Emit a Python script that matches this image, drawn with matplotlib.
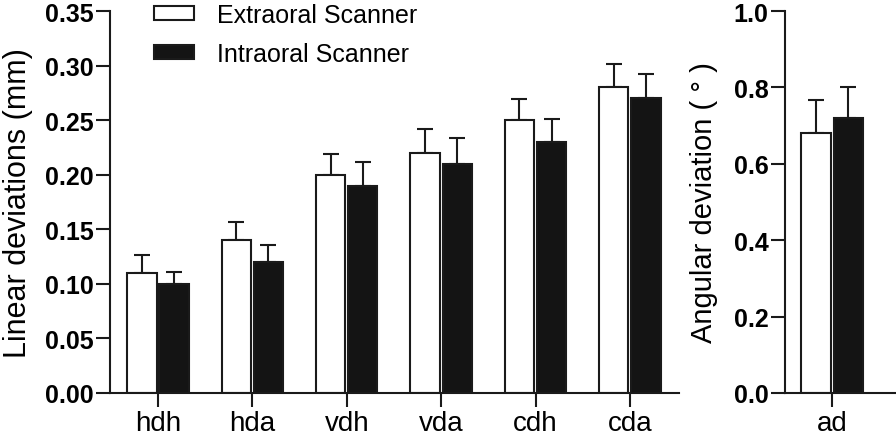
import numpy as np
import matplotlib.pyplot as plt

plt.rcParams['font.family'] = ['Liberation Sans', 'DejaVu Sans']

groups = ['hdh', 'hda', 'vdh', 'vda', 'cdh', 'cda']
extra = [0.11, 0.14, 0.20, 0.22, 0.25, 0.28]
extra_err = [0.016, 0.017, 0.019, 0.022, 0.019, 0.021]
intra = [0.10, 0.12, 0.19, 0.21, 0.23, 0.27]
intra_err = [0.011, 0.016, 0.022, 0.024, 0.021, 0.022]

ang_groups = ['ad']
ang_extra = [0.68]
ang_extra_err = [0.086]
ang_intra = [0.72]
ang_intra_err = [0.081]

lw = 1.5
ink = '#1a1a1a'
w = 0.31
off = 0.17

fig = plt.figure(figsize=(8.96, 4.35), dpi=100)
ax1 = fig.add_axes([110/896, 41/435, 569/896, 382/435])
ax2 = fig.add_axes([785/896, 41/435, 110/896, 382/435])


def draw(ax, labels, e, ee, i, ie):
    x = np.arange(len(labels))
    ax.bar(x - off, e, w, color='white', edgecolor=ink, linewidth=lw,
           label='Extraoral Scanner', zorder=2)
    ax.bar(x + off, i, w, color='#141414', edgecolor=ink, linewidth=lw,
           label='Intraoral Scanner', zorder=2)
    ax.errorbar(x - off, e, yerr=[np.zeros(len(e)), ee], fmt='none',
                ecolor=ink, elinewidth=lw, capsize=5.8, capthick=lw, zorder=1)
    ax.errorbar(x + off, i, yerr=[np.zeros(len(i)), ie], fmt='none',
                ecolor=ink, elinewidth=lw, capsize=5.8, capthick=lw, zorder=1)
    ax.set_xticks(x)
    ax.set_xticklabels(labels, fontsize=20)
    for s in ['top', 'right']:
        ax.spines[s].set_visible(False)
    for s in ['left', 'bottom']:
        ax.spines[s].set_linewidth(lw)
        ax.spines[s].set_color(ink)
    ax.tick_params(axis='both', direction='out', length=10, width=lw, color=ink)
    ax.tick_params(axis='x', pad=2)
    ax.tick_params(axis='y', pad=2)


draw(ax1, groups, extra, extra_err, intra, intra_err)
ax1.set_xlim(-0.508, 5.52)
ax1.set_ylim(0, 0.35)
ax1.set_yticks(np.arange(0, 0.351, 0.05))
ax1.set_yticklabels([f'{v:.2f}' for v in np.arange(0, 0.351, 0.05)],
                    fontsize=18, fontweight='bold')
ax1.set_ylabel('Linear deviations (mm)', fontsize=22)
ax1.yaxis.set_label_coords(-0.135, 0.5)
ax1.legend(loc='upper left', bbox_to_anchor=(0.037, 1.08), frameon=False,
           fontsize=18, handlelength=1.6, handleheight=0.47,
           handletextpad=0.95, labelspacing=0.6)

draw(ax2, ang_groups, ang_extra, ang_extra_err, ang_intra, ang_intra_err)
ax2.set_xlim(-0.5, 0.667)
ax2.set_ylim(0, 1.0)
ax2.set_yticks(np.arange(0, 1.01, 0.2))
ax2.set_yticklabels([f'{v:.1f}' for v in np.arange(0, 1.01, 0.2)],
                    fontsize=18, fontweight='bold')
ax2.set_ylabel('Angular deviation ( ° )', fontsize=21)
ax2.yaxis.set_label_coords(-0.609, 0.5)

fig.savefig('out.png', dpi=100)
